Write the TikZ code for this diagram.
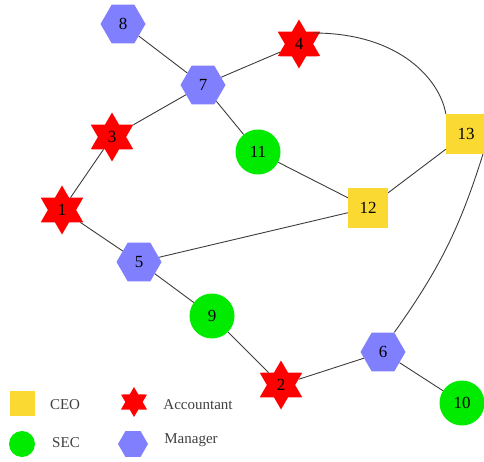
\documentclass[tikz,border=0pt]{standalone}
\usepackage{fontspec}
\setmainfont{Liberation Serif}
\usetikzlibrary{shapes.geometric}
\definecolor{ceo}{RGB}{250,218,50}
\definecolor{acc}{RGB}{255,0,0}
\definecolor{sec}{RGB}{0,235,0}
\definecolor{mgr}{RGB}{128,128,255}
\definecolor{edge}{RGB}{60,60,60}
\tikzset{
  every node/.style={inner sep=0pt, font=\fontsize{17}{17}\selectfont},
  ceonode/.style={rectangle, fill=ceo, minimum size=40pt},
  accnode/.style={star, star points=6, star point ratio=1.73, fill=acc, minimum size=49pt},
  secnode/.style={circle, fill=sec, minimum size=45pt},
  mgrnode/.style={regular polygon, regular polygon sides=6, fill=mgr, minimum size=45pt},
  conn/.style={draw=edge, line width=0.9pt},
  legtext/.style={font=\fontsize{15}{15}\selectfont, text=black!75}
}
\begin{document}
\begin{tikzpicture}[x=1pt,y=-1pt]
\useasboundingbox (0,0) rectangle (484,462);
\node[mgrnode] (n8) at (123,24) {8};
\node[mgrnode] (n7) at (203,85) {7};
\node[accnode] (n4) at (299,44) {4};
\node[accnode] (n3) at (112,137) {3};
\node[accnode] (n1) at (62,210) {1};
\node[mgrnode] (n5) at (139,262) {5};
\node[secnode] (n11) at (258,152) {11};
\node[ceonode] (n12) at (368,208) {12};
\node[ceonode] (n13) at (466,134) {13};
\node[secnode] (n9) at (212,316) {9};
\node[accnode] (n2) at (281,385) {2};
\node[mgrnode] (n6) at (383,352) {6};
\node[secnode] (n10) at (462,403) {10};
\draw[conn] (n8) -- (n7);
\draw[conn] (n7) -- (n4);
\draw[conn] (n7) -- (n3);
\draw[conn] (n7) -- (n11);
\draw[conn] (n3) -- (n1);
\draw[conn] (n1) -- (n5);
\draw[conn] (n5) -- (n12);
\draw[conn] (n5) -- (n9);
\draw[conn] (n9) -- (n2);
\draw[conn] (n2) -- (n6);
\draw[conn] (n6) -- (n10);
\draw[conn] (n6.60) to[bend right=9] (n13.-50);
\draw[conn] (n11) -- (n12);
\draw[conn] (n12) -- (n13);
\path (n4.east) ++(0,-11) coordinate (c4);
\draw[conn] (c4) .. controls (400,33) and (440,80) .. (n13.north west);
% legend
\node[ceonode, minimum size=25pt] (l1) at (22,403) {};
\node[legtext] (t1) at (65,405) {CEO};
\node[accnode, minimum size=30pt] (l2) at (134,402) {};
\node[legtext] (t2) at (198,405) {Accountant};
\node[secnode, minimum size=26pt] (l3) at (22,444) {};
\node[legtext] (t3) at (66,443) {SEC};
\node[mgrnode, minimum size=30pt] (l4) at (133,444) {};
\node[legtext] (t4) at (191,440) {Manager};
\end{tikzpicture}
\end{document}
